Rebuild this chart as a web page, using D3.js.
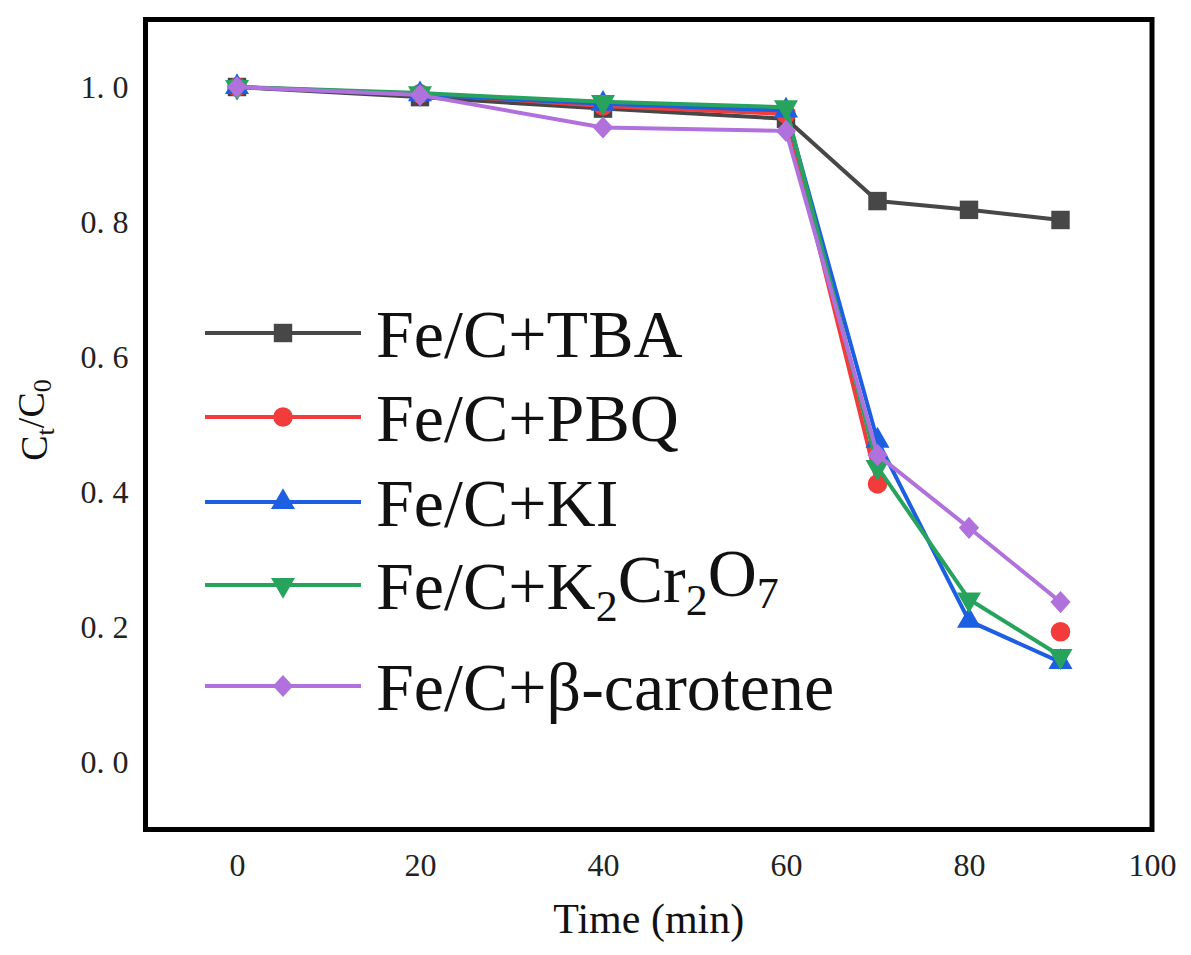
<!DOCTYPE html>
<html>
<head>
<meta charset="utf-8">
<script src="https://cdn.jsdelivr.net/npm/d3@7"></script>
<style>
  body { margin: 0; background: #fff; }
  svg { display: block; font-family: "Liberation Serif", "Times New Roman", serif; }
</style>
</head>
<body>
<svg id="chart" width="1191" height="955"></svg>
<script>
"use strict";

// Données (Ct/C0 en fonction du temps)
const times = [0, 20, 40, 60, 70, 80, 90];
const tbaValues = [1.0, 0.985, 0.968, 0.953, 0.831, 0.818, 0.803];
const pbqValues = [1.0, 0.990, 0.972, 0.960, 0.412, null, 0.193];
const kiValues = [1.0, 0.989, 0.975, 0.965, 0.476, 0.209, 0.148];
const k2cr2o7Values = [1.0, 0.991, 0.978, 0.970, 0.437, 0.241, 0.157];
const caroteneValues = [1.0, 0.988, 0.940, 0.935, 0.455, 0.347, 0.237];

const seriesLabels = ["Fe/C+TBA", "Fe/C+PBQ", "Fe/C+KI", "Fe/C+K_2Cr_2O_7", "Fe/C+β-carotene"];
const seriesColors = ["#474747", "#f23c3c", "#1c5fe0", "#28a35e", "#b071dc"];
const seriesSymbols = ["square", "circle", "triangle", "triangleDown", "diamond"];

const xTicks = [0, 20, 40, 60, 80, 100];
const yTicks = [0.0, 0.2, 0.4, 0.6, 0.8, 1.0];

const svg = d3.select("#chart");
const margin = { left: 145.5, right: 39, top: 19.5, bottom: 125.5 };
const width = +svg.attr("width"), height = +svg.attr("height");

const x = d3.scaleLinear().domain([-10, 100]).range([margin.left, width - margin.right]);
const y = d3.scaleLinear().domain([-0.1, 1.1]).range([height - margin.bottom, margin.top]);

/**
 * Retourne le chemin d'un marqueur selon son type.
 */
function markerPath(type) {
  switch (type) {
    case "square": return d3.symbol(d3.symbolSquare, 340)();
    case "circle": return d3.symbol(d3.symbolCircle, 300)();
    case "triangle":
    case "triangleDown": return d3.symbol(d3.symbolTriangle, 250)();
    default: return d3.symbol(d3.symbolDiamond2, 260)();
  }
}

function markerTransform(type, px, py) {
  let t = "translate(" + px + "," + py + ")";
  if (type === "triangleDown") t += " rotate(180)";
  if (type === "diamond") t += " scale(1,1.1)";
  return t;
}

/**
 * Écrit un texte avec indices (notation "_2").
 */
function writeRich(textSel, str, subSize) {
  const parts = str.split(/(_\w)/).filter(p => p.length);
  let lowered = false;
  parts.forEach(p => {
    if (p[0] === "_") {
      textSel.append("tspan").attr("dy", lowered ? 0 : "0.28em").attr("font-size", subSize).text(p.slice(1));
      lowered = true;
    } else {
      textSel.append("tspan").attr("dy", lowered ? "-0.28em" : 0).text(p);
      lowered = false;
    }
  });
}

// Axes (sans graduations)
const xAxis = d3.axisBottom(x).tickValues(xTicks).tickSize(0).tickPadding(24).tickFormat(d3.format("d"));
const yAxis = d3.axisLeft(y).tickValues(yTicks).tickSize(0).tickPadding(17)
  .tickFormat(d => d.toFixed(1).replace(".", ". "));

svg.append("g")
  .attr("transform", "translate(0," + y.range()[0] + ")")
  .call(xAxis)
  .call(g => g.select(".domain").remove())
  .selectAll("text")
  .attr("font-size", 32).attr("fill", "#222").attr("font-family", "Liberation Serif");

svg.append("g")
  .attr("transform", "translate(" + x.range()[0] + ",0)")
  .call(yAxis)
  .call(g => g.select(".domain").remove())
  .selectAll("text")
  .attr("font-size", 32).attr("fill", "#222").attr("font-family", "Liberation Serif");

// Cadre
svg.append("rect")
  .attr("x", x.range()[0])
  .attr("y", y.range()[1])
  .attr("width", x.range()[1] - x.range()[0])
  .attr("height", y.range()[0] - y.range()[1])
  .attr("fill", "none")
  .attr("stroke", "#000")
  .attr("stroke-width", 5);

// Titres des axes
svg.append("text")
  .attr("x", x(45))
  .attr("y", 933)
  .attr("text-anchor", "middle")
  .attr("font-size", 42)
  .attr("fill", "#111")
  .text("Time (min)");

const yTitle = svg.append("text")
  .attr("transform", "translate(47," + 420 + ") rotate(-90)")
  .attr("text-anchor", "middle")
  .attr("font-size", 38)
  .attr("fill", "#111");
writeRich(yTitle, "C_t/C_0", 26);

// Séries
const allValues = [tbaValues, pbqValues, kiValues, k2cr2o7Values, caroteneValues];
const line = d3.line()
  .defined(d => d.v !== null)
  .x(d => x(d.t))
  .y(d => y(d.v));

allValues.forEach((vals, i) => {
  const pts = times.map((t, j) => ({ t: t, v: vals[j] }));
  const g = svg.append("g").attr("class", "series");
  g.append("path")
    .datum(pts)
    .attr("d", line)
    .attr("fill", "none")
    .attr("stroke", seriesColors[i])
    .attr("stroke-width", 4)
    .attr("stroke-linejoin", "round");
  g.selectAll(".marker")
    .data(pts.filter(d => d.v !== null))
    .enter()
    .append("path")
    .attr("class", "marker")
    .attr("d", markerPath(seriesSymbols[i]))
    .attr("transform", d => markerTransform(seriesSymbols[i], x(d.t), y(d.v)))
    .attr("fill", seriesColors[i]);
});

// Légende
const legendRows = [333, 417, 502, 585, 686];
seriesLabels.forEach((lab, i) => {
  const g = svg.append("g").attr("transform", "translate(0," + legendRows[i] + ")");
  g.append("line")
    .attr("x1", 205).attr("x2", 361)
    .attr("y1", 0).attr("y2", 0)
    .attr("stroke", seriesColors[i])
    .attr("stroke-width", 4);
  g.append("path")
    .attr("d", markerPath(seriesSymbols[i]))
    .attr("transform", markerTransform(seriesSymbols[i], 283, 0))
    .attr("fill", seriesColors[i]);
  const t = g.append("text")
    .attr("x", 376)
    .attr("y", 24)
    .attr("font-size", 68)
    .attr("fill", "#111");
  writeRich(t, lab, 44);
});
</script>
</body>
</html>
